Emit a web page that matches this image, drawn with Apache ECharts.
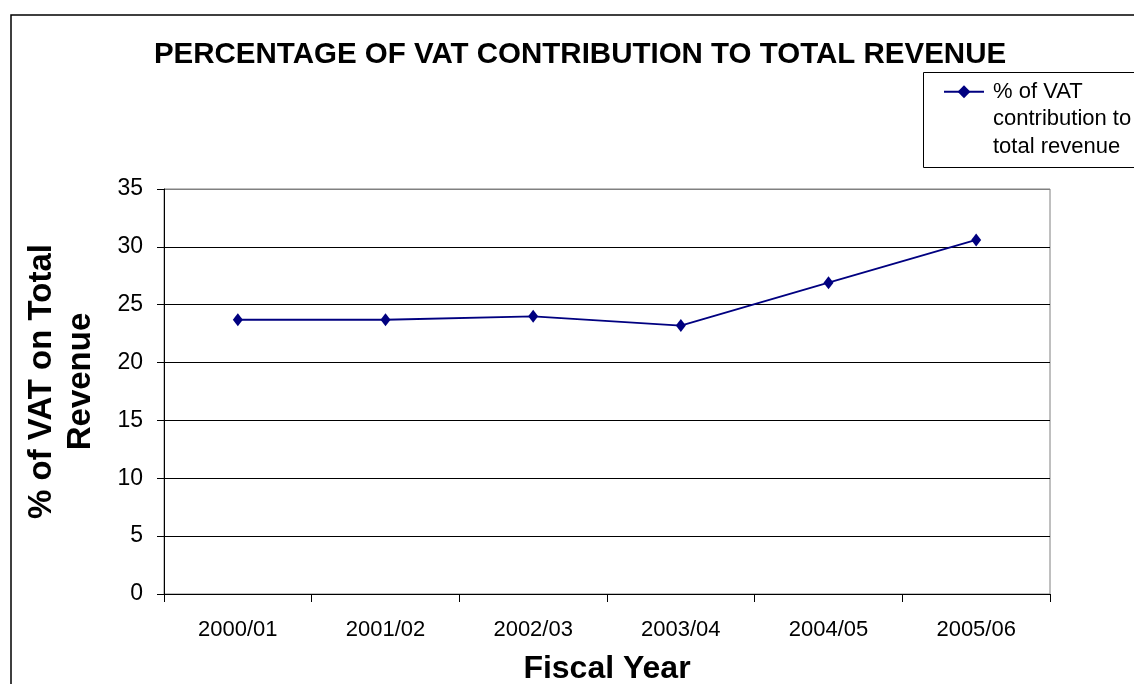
<!DOCTYPE html>
<html>
<head>
<meta charset="utf-8">
<script src="https://cdn.jsdelivr.net/npm/echarts@6/dist/echarts.min.js"></script>
<style>
  html, body { margin: 0; padding: 0; background: #fff; }
  #chart { width: 1134px; height: 684px; }
</style>
</head>
<body>
<div id="chart"></div>
<script>
// Fiscal years and VAT share of total revenue (%)
const fiscalYears = ['2000/01', '2001/02', '2002/03', '2003/04', '2004/05', '2005/06'];
const vatShare = [23.7, 23.7, 24.0, 23.2, 26.9, 30.6];
const seriesName = '% of VAT\ncontribution to\ntotal revenue';

const FONT = '"Liberation Sans", Arial, sans-serif';

const chart = echarts.init(document.getElementById('chart'), null, { renderer: 'canvas' });

chart.setOption({
  backgroundColor: '#fff',
  animation: false,
  title: {
    text: 'PERCENTAGE OF VAT CONTRIBUTION TO TOTAL REVENUE',
    left: 575, top: 35, textAlign: 'center',
    textStyle: { fontFamily: FONT, fontSize: 29.5, fontWeight: 'bold', color: '#000' }
  },
  legend: {
    data: [seriesName],
    left: 943, top: 23,
    padding: 0,
    itemWidth: 40, itemHeight: 16,
    // pad above so the marker lines up with the first text line
    formatter: function (name) { return '\n\n' + name; },
    textStyle: { fontFamily: FONT, fontSize: 22, color: '#000', lineHeight: 27.5, padding: [0, 0, 0, 4] }
  },
  grid: {
    left: 164, right: 84, top: 189, bottom: 90,
    outerBoundsMode: 'none',
    show: true, borderColor: '#808080', borderWidth: 1
  },
  xAxis: {
    type: 'category',
    data: fiscalYears,
    boundaryGap: true,
    name: 'Fiscal Year',
    nameLocation: 'middle',
    nameGap: 59,
    nameTextStyle: { fontFamily: FONT, fontSize: 32, fontWeight: 'bold', color: '#000' },
    axisLine: { lineStyle: { color: '#000', width: 1 } },
    axisTick: { show: true, inside: false, length: 8, alignWithLabel: false, lineStyle: { color: '#000' } },
    axisLabel: { fontFamily: FONT, fontSize: 22, color: '#000', margin: 25 },
    splitLine: { show: false }
  },
  yAxis: {
    type: 'value',
    min: 0, max: 35, interval: 5,
    name: '% of VAT on Total\nRevenue',
    nameLocation: 'middle',
    nameGap: 64,
    nameRotate: 90,
    nameTextStyle: { fontFamily: FONT, fontSize: 33, fontWeight: 'bold', color: '#000', lineHeight: 39, padding: [0, 0, 0, 20] },
    axisLine: { show: true, lineStyle: { color: '#000', width: 1 } },
    axisTick: { show: true, inside: false, length: 7, lineStyle: { color: '#000' } },
    axisLabel: { fontFamily: FONT, fontSize: 23, color: '#000', margin: 21 },
    splitLine: {
      show: true,
      lineStyle: { color: ['#000', '#000', '#000', '#000', '#000', '#000', '#000', '#808080'], width: 1 }
    }
  },
  series: [{
    name: seriesName,
    type: 'line',
    data: vatShare,
    symbol: 'diamond',
    symbolSize: [10, 13],
    lineStyle: { color: '#000080', width: 1.8 },
    itemStyle: { color: '#000080' }
  }],
  graphic: [
    // outer chart frame
    { type: 'rect', shape: { x: 11, y: 15, width: 1200, height: 720 }, style: { fill: null, stroke: '#000', lineWidth: 1.5 }, z: -1 },
    // legend box
    { type: 'rect', shape: { x: 923.5, y: 72.5, width: 260, height: 95 }, style: { fill: null, stroke: '#000', lineWidth: 1 }, z: -1 }
  ]
});
</script>
</body>
</html>
